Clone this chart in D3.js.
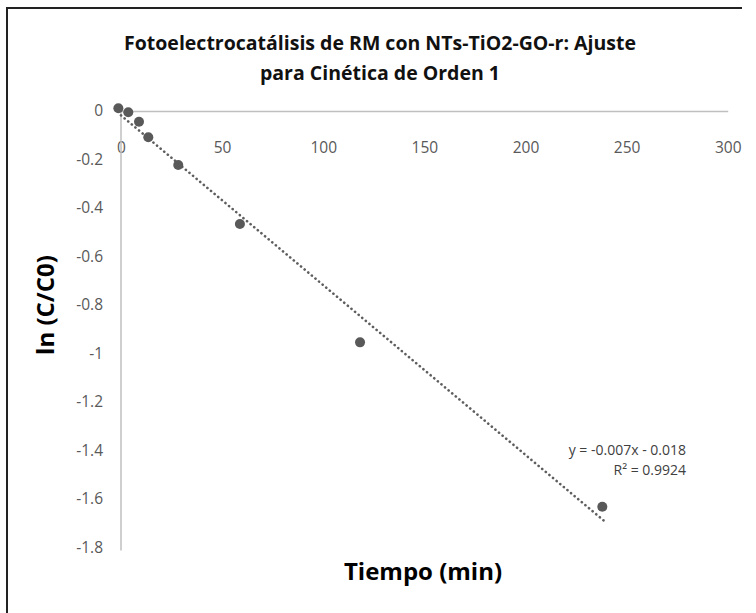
<!DOCTYPE html>
<html><head><meta charset="utf-8">
<script src="https://cdn.jsdelivr.net/npm/d3@7"></script>
<style>body{margin:0;background:#fff}svg{display:block}</style>
</head><body>
<svg id="chart" width="756" height="613"></svg>
<script>
// Data
const tiempo = [-1.3, 3.6, 8.9, 13.5, 28.3, 58.8, 118.2, 238];
const lnC = [0.011, -0.005, -0.044, -0.108, -0.223, -0.466, -0.954, -1.632];
const xTicks = [0, 50, 100, 150, 200, 250, 300];
const yTicks = [0, -0.2, -0.4, -0.6, -0.8, -1, -1.2, -1.4, -1.6, -1.8];
const trendSlope = -0.007, trendIntercept = -0.018, trendRange = [0, 240];
const titleLines = ["Fotoelectrocatálisis de RM con NTs-TiO2-GO-r: Ajuste", "para Cinética de Orden 1"];
const eqLines = ["y = -0.007x - 0.018", "R² = 0.9924"];

const svg = d3.select("#chart");
const font = "'Open Sans', sans-serif";

// frame
svg.append("path").attr("d", "M7,613 L7,8 L742,8").attr("fill", "none").attr("stroke", "#222").attr("stroke-width", 2);

const x = d3.scaleLinear().domain([0, 300]).range([121, 727.7]);
const y = d3.scaleLinear().domain([-1.8, 0]).range([547.5, 111]);

// axes lines (via d3 axes, no ticks)
const xAxis = svg.append("g").attr("transform", `translate(0,${y(0)})`)
  .call(d3.axisBottom(x).tickValues(xTicks).tickSize(0).tickFormat(d => d));
xAxis.select(".domain").attr("stroke", "#bfbfbf").attr("stroke-width", 1.5);
xAxis.selectAll("text").attr("dy", "0").attr("y", 42).attr("font-family", font).attr("font-size", 15.5).attr("fill", "#595959");

const yAxis = svg.append("g").attr("transform", `translate(${x(0)},0)`)
  .call(d3.axisLeft(y).tickValues(yTicks).tickSize(0).tickFormat(d => d === 0 ? "0" : String(d)));
yAxis.select(".domain").attr("stroke", "#bfbfbf").attr("stroke-width", 1.5).attr("d", `M0,${y(0)}V${y(-1.8) + 3}`);
yAxis.selectAll("text").attr("x", -18).attr("dy", "0.32em").attr("font-family", font).attr("font-size", 15.5).attr("fill", "#595959");

// trendline
const line = d3.line().x(d => x(d)).y(d => y(trendSlope * d + trendIntercept));
svg.append("path").datum(trendRange).attr("d", line)
  .attr("fill", "none").attr("stroke", "#5e5e5e").attr("stroke-width", 2.6)
  .attr("stroke-linecap", "round").attr("stroke-dasharray", "0.1 4.6");

// points
svg.selectAll("circle.pt").data(tiempo).join("circle").attr("class", "pt")
  .attr("cx", d => x(d)).attr("cy", (d, i) => y(lnC[i])).attr("r", 5).attr("fill", "#595959");

// title
svg.append("text").attr("x", 380).attr("y", 50).attr("text-anchor", "middle")
  .attr("font-family", font).attr("font-weight", "bold").attr("font-size", 19.5).attr("fill", "#111")
  .selectAll("tspan").data(titleLines).join("tspan").attr("x", 380).attr("dy", (d, i) => i ? 30 : 0).text(d => d);

// axis titles
svg.append("text").attr("transform", "translate(54,305) rotate(-90)").attr("text-anchor", "middle")
  .attr("font-family", font).attr("font-weight", "bold").attr("font-size", 24).attr("fill", "#000").text("ln (C/C0)");
svg.append("text").attr("x", 423).attr("y", 580).attr("text-anchor", "middle")
  .attr("font-family", font).attr("font-weight", "bold").attr("font-size", 24).attr("fill", "#000").text("Tiempo (min)");

// equation
svg.append("text").attr("text-anchor", "end").attr("font-family", font).attr("font-size", 14).attr("fill", "#404040")
  .selectAll("tspan").data(eqLines).join("tspan").attr("x", 686).attr("y", (d, i) => 455 + i * 20).text(d => d);
</script>
</body></html>
